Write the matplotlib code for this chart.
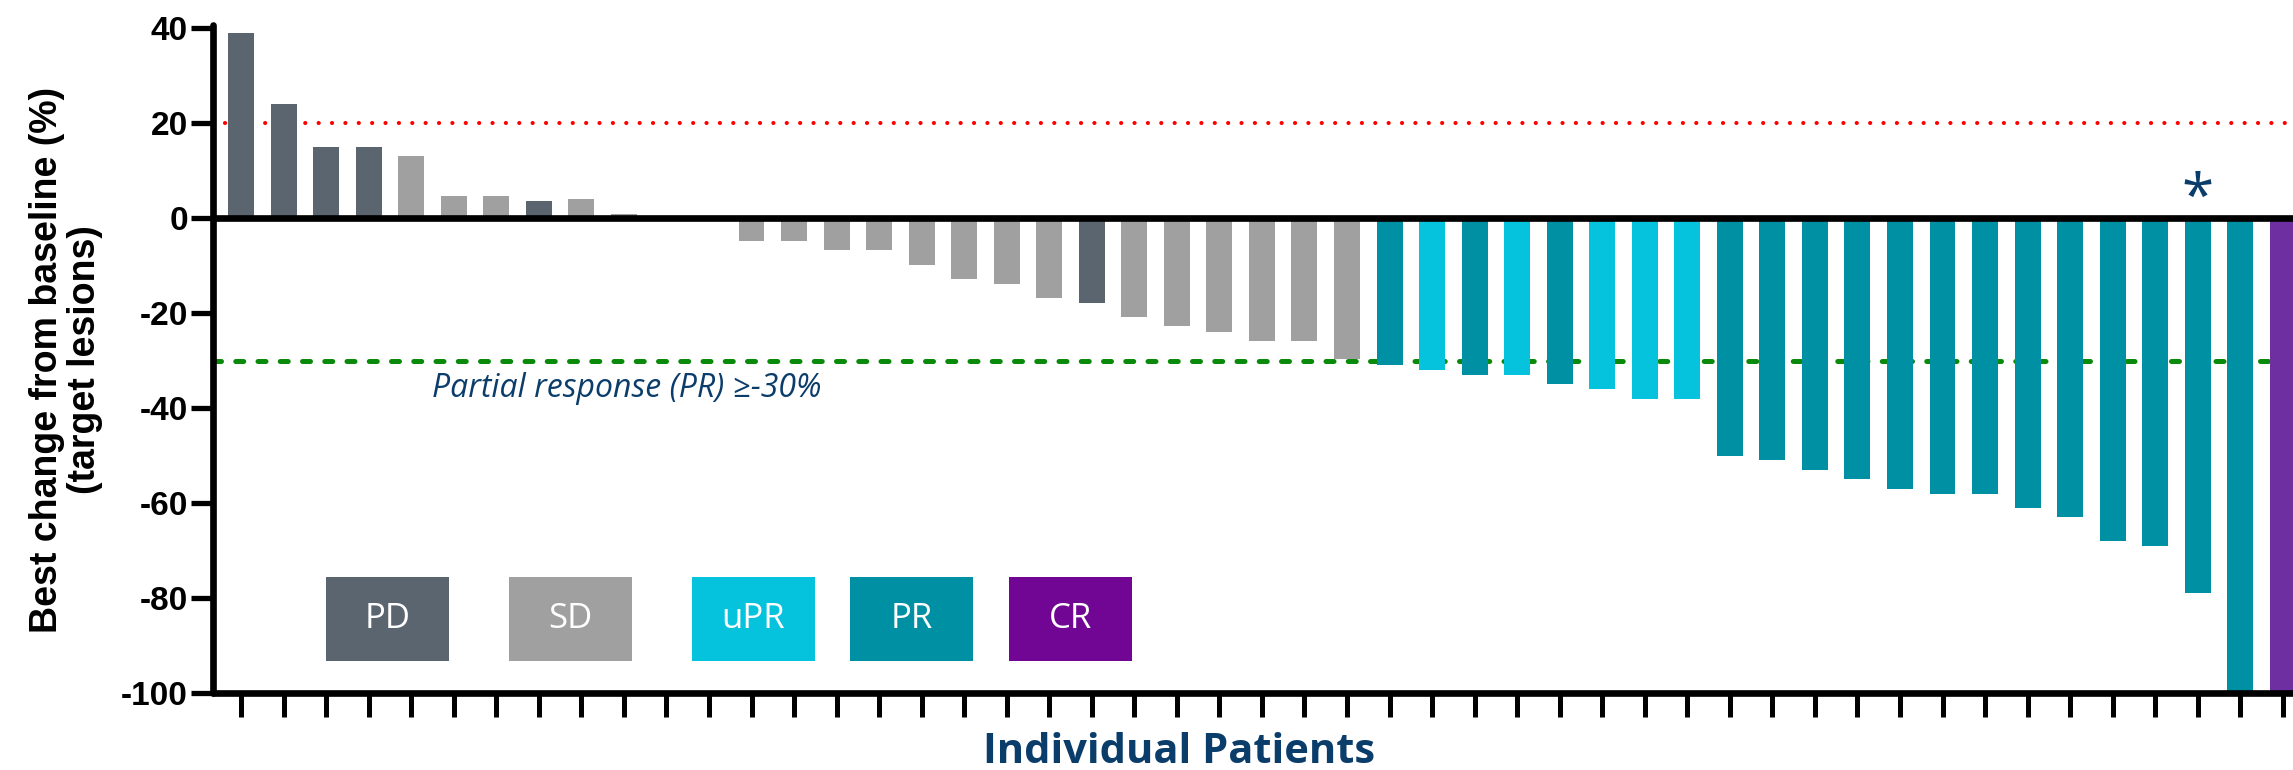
import matplotlib
matplotlib.use('Agg')
import matplotlib.pyplot as plt
from matplotlib.patches import Rectangle

plt.rcParams['axes.unicode_minus'] = False

# best change from baseline per patient, sorted (waterfall)
changes = [39, 24, 15, 15, 13, 4.7, 4.7, 3.6, 3.9, 0.8, 0, 0,
           -4.8, -4.8, -6.8, -6.8, -9.8, -12.8, -13.8, -16.8, -17.9, -20.8,
           -22.8, -23.9, -25.8, -25.8, -29.6,
           -31, -32, -33, -33, -35, -36, -38, -38,
           -50, -51, -53, -55, -57, -58, -58, -61, -63, -68, -69, -79,
           -100, -100]
responses = ['PD', 'PD', 'PD', 'PD', 'SD', 'SD', 'SD', 'PD', 'SD', 'SD', 'SD', 'SD',
             'SD', 'SD', 'SD', 'SD', 'SD', 'SD', 'SD', 'SD', 'PD', 'SD',
             'SD', 'SD', 'SD', 'SD', 'SD',
             'PR', 'uPR', 'PR', 'uPR', 'PR', 'uPR', 'uPR', 'uPR',
             'PR', 'PR', 'PR', 'PR', 'PR', 'PR', 'PR', 'PR', 'PR', 'PR', 'PR', 'PR',
             'PR', 'CR']
starred = [46]

legend_labels = ['PD', 'SD', 'uPR', 'PR', 'CR']
bar_colors = {'PD': '#5a6570', 'SD': '#a0a0a0', 'uPR': '#05c3dd', 'PR': '#0090a3', 'CR': '#6e2fa0'}
legend_colors = {'PD': '#5a6570', 'SD': '#a0a0a0', 'uPR': '#05c3dd', 'PR': '#0090a3', 'CR': '#720694'}
navy = '#0b3d6b'

fig = plt.figure(figsize=(22.93, 7.70), dpi=100)
ax = fig.add_axes([213 / 2293, 0.1, 1 - 213 / 2293, 668.3 / 770])

x = list(range(len(changes)))
ax.bar(x, changes, width=0.61, color=[bar_colors[r] for r in responses], zorder=2)

ax.set_xlim(-0.66, 48.24)
ax.set_ylim(-100, 40.7)

# reference lines
ax.plot([-0.38, 48.3], [20, 20], color='#ff0000', lw=3, dashes=(0.01, 3.2),
        dash_capstyle='round', zorder=1)
ax.plot([-0.66, 48.3], [-30, -30], color='#0a8a0a', lw=3.6, dashes=(1.6, 2.85),
        dash_capstyle='round', zorder=1)
ax.axhline(0, color='black', lw=4.8, zorder=3)

ax.text(4.49, -37.7, 'Partial response (PR) \u2265-30%', family=['Open Sans', 'DejaVu Sans'],
        style='italic', fontsize=23, color=navy, ha='left', va='baseline')
for i in starred:
    ax.text(i, 0.5, '*', family='Open Sans', fontsize=42,
            color=navy, ha='center', va='baseline')

# spines and ticks
for s in ['top', 'right']:
    ax.spines[s].set_visible(False)
for s in ['left', 'bottom']:
    ax.spines[s].set_linewidth(4.8)
    ax.spines[s].set_capstyle('round')
ax.set_yticks([40, 20, 0, -20, -40, -60, -80, -100])
ax.set_xticks(x)
ax.set_xticklabels([])
ax.tick_params(axis='y', direction='out', length=16, width=3.8, pad=2, labelsize=24)
ax.tick_params(axis='x', direction='out', length=17, width=3.6)
for lab in ax.get_yticklabels():
    lab.set_family('Liberation Sans')
    lab.set_fontweight('bold')

# legend boxes
box_x = [0.0543, 0.1423, 0.2303, 0.3063, 0.3827]
for bx, lab in zip(box_x, legend_labels):
    ax.add_patch(Rectangle((bx, 0.0479), 0.0591, 0.1257, transform=ax.transAxes,
                           facecolor=legend_colors[lab], edgecolor='none', zorder=4))
    ax.text(bx + 0.0591 / 2, 0.0479 + 0.1257 / 2, lab, transform=ax.transAxes,
            family='Open Sans', fontsize=25, color='white', ha='center', va='center', zorder=5)

fig.text(66 / 2293, 1 - 360 / 770, 'Best change from baseline (%)\n(target lesions)',
         family='Liberation Sans', fontweight='bold', fontsize=27, rotation=90,
         ha='center', va='center', multialignment='center', linespacing=1.1)
fig.text(1179 / 2293, 7 / 770, 'Individual Patients', family='Open Sans', fontweight='bold',
         fontsize=30, color=navy, ha='center', va='baseline')

fig.savefig('out.png', dpi=100)
